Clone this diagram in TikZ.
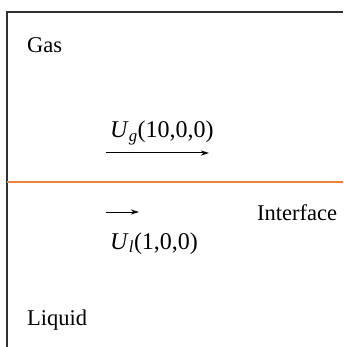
\documentclass[tikz,border=0pt]{standalone}
\usepackage{fontspec}
\setmainfont{Liberation Serif}
\usetikzlibrary{arrows.meta}
\definecolor{ifc}{RGB}{240,130,60}
\definecolor{frame}{RGB}{50,50,50}
\begin{document}
\begin{tikzpicture}[x=1pt,y=-1pt,
  lbl/.style={inner sep=0pt,anchor=base west,font=\fontsize{22.5}{26}\selectfont},
  mlbl/.style={inner sep=0pt,anchor=base west,font=\fontsize{24}{28}\selectfont},
  vel/.style={-{Stealth[length=8pt,width=5pt,inset=2.5pt]},line width=1pt}]
\useasboundingbox (0,0) rectangle (343,347);
\draw[line width=1.3pt,frame] (7,347) -- (7,12) -- (343,12);
\draw[ifc,line width=1.2pt] (7,182) -- (343,182);
\node[lbl] (gas) at (27,53) {Gas};
\node[lbl] (liq) at (27,325) {Liquid};
\node[lbl] (intf) at (257,220) {Interface};
\node[mlbl] (ug) at (110,138) {\textit{U}\textsubscript{\textit{g}}(10,0,0)};
\node[mlbl] (ul) at (110,249) {\textit{U}\textsubscript{\textit{l}}(1,0,0)};
\coordinate (ga) at (106,153);
\coordinate (gb) at (209,153);
\coordinate (la) at (106,212);
\coordinate (lb) at (139,212);
\draw[vel] (ga) -- (gb);
\draw[vel] (la) -- (lb);
\end{tikzpicture}
\end{document}
